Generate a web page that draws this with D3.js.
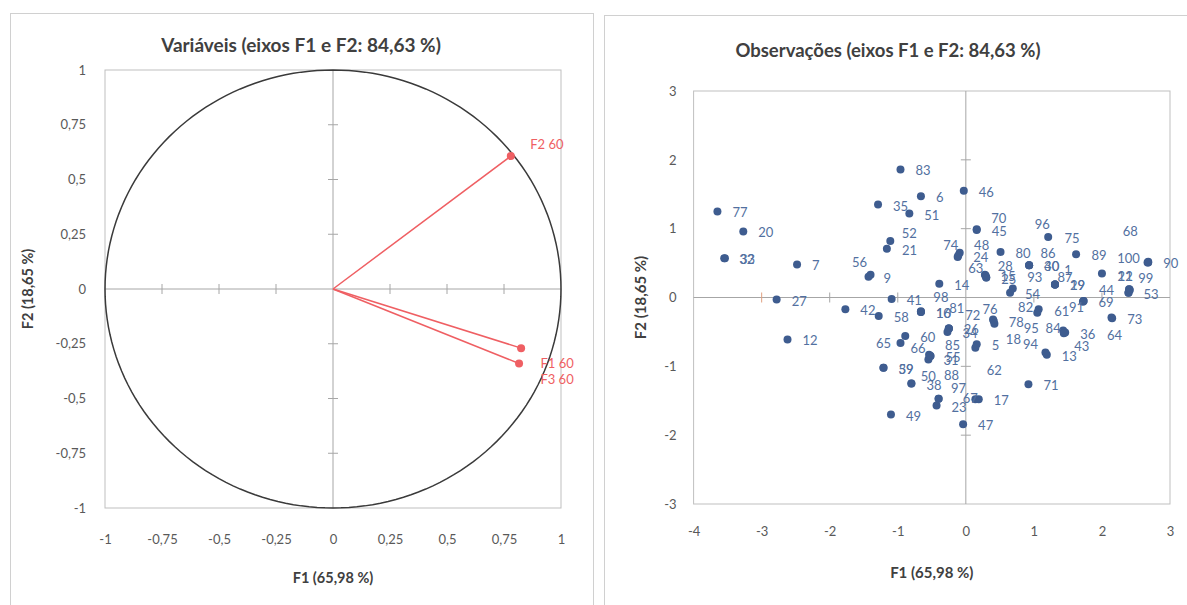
<!DOCTYPE html>
<html><head><meta charset="utf-8">
<script src="https://cdn.jsdelivr.net/npm/d3@7"></script>
<style>body{margin:0;background:#fff;} svg{display:block;font-family:Lato,'Open Sans',sans-serif;}</style>
</head><body><svg id="c" width="1187" height="605"></svg>
<script>
// ---------- DATA ----------
const varTitle = "Variáveis (eixos F1 e F2: 84,63 %)";
const obsTitle = "Observações (eixos F1 e F2: 84,63 %)";
const xTitle = "F1 (65,98 %)";
const yTitle = "F2 (18,65 %)";
const varTicks = [-1,-0.75,-0.5,-0.25,0,0.25,0.5,0.75,1];
const obsXTicks = [-4,-3,-2,-1,0,1,2,3];
const obsYTicks = [-3,-2,-1,0,1,2,3];

const varNames = ["F1 60","F2 60","F3 60"];
const varF1 = [0.825, 0.78, 0.816];
const varF2 = [-0.27, 0.607, -0.34];

const obsLabels = ["77","20","32","33","7","27","12","42","58","56","9","83","6","46","35","51","70","45","52","21","74","48","24","80","63","28","15","25","14","41","54","93","86","40","30","96","75","89","90","100","68","22","11","99","44","53","69","91","61","87","1","29","19","82","95","78","76","18","84","36","43","73","64","13","94","71","10","16","98","81","72","26","34","60","65","66","55","31","85","59","39","50","38","88","97","23","67","17","49","47","5","62"];
const obsF1 = [-3.65,-3.27,-3.55,-3.54,-2.48,-2.78,-2.62,-1.77,-1.28,-1.40,-1.43,-0.96,-0.66,-0.03,-1.29,-0.83,0.16,0.16,-1.11,-1.16,-0.09,-0.12,-0.11,0.51,0.28,0.30,0.29,0.30,-0.39,-1.09,0.65,0.69,0.93,0.93,0.93,1.21,1.62,2.00,2.68,2.67,2.68,2.40,2.40,2.41,2.39,2.39,1.73,1.73,1.72,1.31,1.31,1.31,1.31,1.07,1.05,0.41,0.40,0.42,1.43,1.46,1.44,2.15,2.14,1.19,1.17,0.92,-0.66,-0.66,-0.66,-0.25,-0.25,-0.25,-0.27,-0.89,-0.96,-0.54,-0.52,-0.55,-0.52,-1.21,-1.21,-0.80,-0.80,-0.40,-0.40,-0.43,0.14,0.19,-1.10,-0.04,0.16,0.14];
const obsF2 = [1.25,0.96,0.57,0.57,0.48,-0.03,-0.61,-0.17,-0.27,0.33,0.30,1.86,1.47,1.55,1.35,1.22,0.99,0.98,0.82,0.71,0.65,0.59,0.61,0.66,0.33,0.29,0.32,0.29,0.20,-0.02,0.07,0.13,0.47,0.47,0.47,0.88,0.63,0.35,0.51,0.51,0.52,0.12,0.12,0.11,0.07,0.07,-0.05,-0.05,-0.06,0.19,0.19,0.19,0.19,-0.17,-0.22,-0.34,-0.32,-0.38,-0.48,-0.51,-0.52,-0.30,-0.29,-0.83,-0.80,-1.26,-0.21,-0.21,-0.20,-0.45,-0.45,-0.45,-0.50,-0.56,-0.66,-0.83,-0.85,-0.90,-0.85,-1.02,-1.02,-1.25,-1.25,-1.47,-1.47,-1.57,-1.48,-1.48,-1.70,-1.84,-0.68,-0.73];

// label placement (style): centre offsets in px for labels moved by the label placer
const varLabelOffset = {"F1 60":[36,15],"F2 60":[36,-12],"F3 60":[38,16]};
const obsLabelOffset = {"56":[-11,-13],"70":[22,-11],"52":[19,-8],"74":[-9,-8],"48":[24,-12],"63":[-9,-7],"28":[19,-12],"93":[22,-12],"86":[19,-12],"96":[-6,-13],"75":[-4,-16],"89":[-3,-18],"100":[-19,-4],"68":[-18,-31],"22":[-4,-13],"11":[-4,-13],"99":[16,-12],"44":[-22,-3],"91":[-7,6],"61":[-21,9],"87":[10,-7],"1":[13,-14],"82":[-13,-2],"95":[-6,15],"76":[-3,-11],"18":[19,15],"84":[-10,-3],"43":[18,13],"64":[3,18],"94":[-15,-9],"98":[20,-14],"81":[8,-20],"72":[24,-13],"65":[-17,0],"66":[-11,-7],"85":[22,-11],"50":[17,-8],"88":[13,-24],"97":[20,-11],"67":[-5,-1],"62":[19,22]};

// ---------- DRAW ----------
const svg = d3.select("#c");
const fmt = d => String(d).replace(".", ",");
const tickCol = "#595959", titleCol = "#404040";

// panel borders
svg.append("rect").attr("x",10.5).attr("y",13.5).attr("width",583).attr("height",640).attr("fill","none").attr("stroke","#d0d0d0");
svg.append("rect").attr("x",604.5).attr("y",15.5).attr("width",640).attr("height",640).attr("fill","none").attr("stroke","#d0d0d0");

function styleAxis(g){
  g.select(".domain").remove();
  g.selectAll("text").attr("fill",tickCol).style("font-size","13px").style("font-family","Lato,'Open Sans',sans-serif");
}

// ----- LEFT: correlation circle -----
const lx = d3.scaleLinear().domain([-1,1]).range([105,561]);
const ly = d3.scaleLinear().domain([-1,1]).range([508,70]);
const L = svg.append("g");
L.append("rect").attr("x",lx(-1)).attr("y",ly(1)).attr("width",lx(1)-lx(-1)).attr("height",ly(-1)-ly(1))
  .attr("fill","none").attr("stroke","#bfbfbf");
L.append("line").attr("x1",lx(-1)).attr("x2",lx(1)).attr("y1",ly(0)).attr("y2",ly(0)).attr("stroke","#a6a6a6");
L.append("line").attr("x1",lx(0)).attr("x2",lx(0)).attr("y1",ly(1)).attr("y2",ly(-1)).attr("stroke","#a6a6a6");
varTicks.filter(t => t!==0 && Math.abs(t)!==1).forEach(t=>{
  L.append("line").attr("x1",lx(t)).attr("x2",lx(t)).attr("y1",ly(0)-5).attr("y2",ly(0)+5).attr("stroke","#a6a6a6");
  L.append("line").attr("y1",ly(t)).attr("y2",ly(t)).attr("x1",lx(0)-5).attr("x2",lx(0)+5).attr("stroke","#a6a6a6");
});
const circ = d3.range(0,361,2).map(a=>[Math.cos(a*Math.PI/180),Math.sin(a*Math.PI/180)]);
L.append("path").attr("d",d3.line().x(d=>lx(d[0])).y(d=>ly(d[1]))(circ))
  .attr("fill","none").attr("stroke","#3a3a3a").attr("stroke-width",1.5);
const red = "#ef5f63";
varNames.forEach((n,i)=>{
  L.append("line").attr("x1",lx(0)).attr("y1",ly(0)).attr("x2",lx(varF1[i])).attr("y2",ly(varF2[i]))
    .attr("stroke",red).attr("stroke-width",1.5);
  L.append("circle").attr("cx",lx(varF1[i])).attr("cy",ly(varF2[i])).attr("r",4).attr("fill",red);
  const o = varLabelOffset[n];
  L.append("text").attr("x",lx(varF1[i])+o[0]).attr("y",ly(varF2[i])+o[1]).attr("text-anchor","middle")
    .attr("dominant-baseline","central").attr("fill",red).style("font-size","13px").text(n);
});
L.append("g").attr("transform",`translate(0,${ly(-1)})`).call(d3.axisBottom(lx).tickValues(varTicks).tickFormat(fmt).tickSize(0).tickPadding(27)).call(styleAxis);
L.append("g").attr("transform",`translate(${lx(-1)},0)`).call(d3.axisLeft(ly).tickValues(varTicks).tickFormat(fmt).tickSize(0).tickPadding(19)).call(styleAxis);
L.append("text").attr("x",301).attr("y",44).attr("text-anchor","middle").attr("dominant-baseline","central")
  .attr("fill",titleCol).style("font-size","19px").style("font-weight","bold").text(varTitle);
L.append("text").attr("x",(lx(-1)+lx(1))/2).attr("y",577).attr("text-anchor","middle").attr("dominant-baseline","central")
  .attr("fill",titleCol).style("font-size","14.5px").style("font-weight","bold").text(xTitle);
L.append("text").attr("transform",`translate(27,${(ly(-1)+ly(1))/2}) rotate(-90)`).attr("text-anchor","middle").attr("dominant-baseline","central")
  .attr("fill",titleCol).style("font-size","14.5px").style("font-weight","bold").text(yTitle);

// ----- RIGHT: observations -----
const rx = d3.scaleLinear().domain([-4,3]).range([693.6,1170]);
const ry = d3.scaleLinear().domain([-3,3]).range([504,91]);
const R = svg.append("g");
R.append("rect").attr("x",rx(-4)).attr("y",ry(3)).attr("width",rx(3)-rx(-4)).attr("height",ry(-3)-ry(3))
  .attr("fill","none").attr("stroke","#bfbfbf");
R.append("line").attr("x1",rx(-4)).attr("x2",rx(3)).attr("y1",ry(0)).attr("y2",ry(0)).attr("stroke","#a6a6a6");
R.append("line").attr("x1",rx(0)).attr("x2",rx(0)).attr("y1",ry(3)).attr("y2",ry(-3)).attr("stroke","#a6a6a6");
obsXTicks.filter(t=>t>-4 && t<3 && t!==0).forEach(t=>{
  R.append("line").attr("x1",rx(t)).attr("x2",rx(t)).attr("y1",ry(0)-5).attr("y2",ry(0)+5).attr("stroke",t===-3?"#e0a080":"#a6a6a6");
});
obsYTicks.filter(t=>t>-3 && t<3 && t!==0).forEach(t=>{
  R.append("line").attr("y1",ry(t)).attr("y2",ry(t)).attr("x1",rx(0)-5).attr("x2",rx(0)+5).attr("stroke","#a6a6a6");
});
const dotCol = "#3e5c8f", labCol = "#5270a0";
obsLabels.forEach((lab,i)=>{
  R.append("circle").attr("cx",rx(obsF1[i])).attr("cy",ry(obsF2[i])).attr("r",4).attr("fill",dotCol);
});
obsLabels.forEach((lab,i)=>{
  const o = obsLabelOffset[lab];
  const t = R.append("text").attr("fill",labCol).style("font-size","13px").attr("dominant-baseline","central").text(lab);
  if(o){ t.attr("x",rx(obsF1[i])+o[0]).attr("y",ry(obsF2[i])+o[1]).attr("text-anchor","middle"); }
  else { t.attr("x",rx(obsF1[i])+15).attr("y",ry(obsF2[i])+1).attr("text-anchor","start"); }
});
const ifmt = d => String(d);
R.append("g").attr("transform",`translate(0,${ry(-3)})`).call(d3.axisBottom(rx).tickValues(obsXTicks).tickFormat(ifmt).tickSize(0).tickPadding(23)).call(styleAxis);
R.append("g").attr("transform",`translate(${rx(-4)},0)`).call(d3.axisLeft(ry).tickValues(obsYTicks).tickFormat(ifmt).tickSize(0).tickPadding(17)).call(styleAxis);
R.append("text").attr("x",888).attr("y",50).attr("text-anchor","middle").attr("dominant-baseline","central")
  .attr("fill",titleCol).style("font-size","18.5px").style("font-weight","bold").text(obsTitle);
R.append("text").attr("x",(rx(-4)+rx(3))/2).attr("y",572).attr("text-anchor","middle").attr("dominant-baseline","central")
  .attr("fill",titleCol).style("font-size","15px").style("font-weight","bold").text(xTitle);
R.append("text").attr("transform",`translate(640,${(ry(-3)+ry(3))/2}) rotate(-90)`).attr("text-anchor","middle").attr("dominant-baseline","central")
  .attr("fill",titleCol).style("font-size","15px").style("font-weight","bold").text(yTitle);
</script></body></html>
